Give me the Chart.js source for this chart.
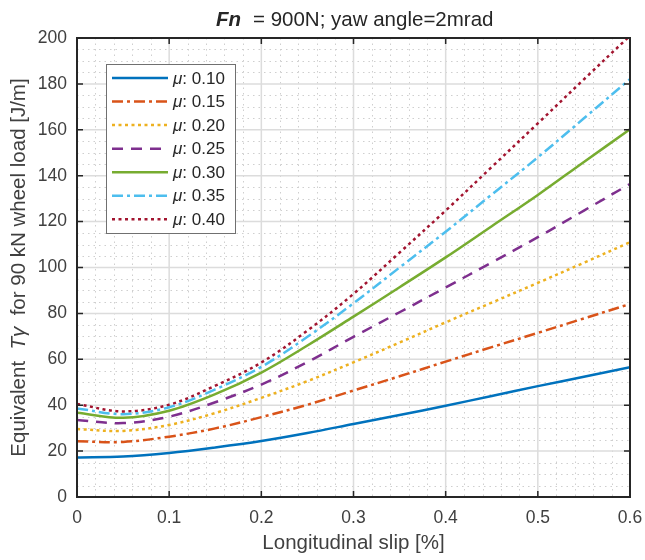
<!DOCTYPE html>
<html>
<head>
<meta charset="utf-8">
<title>Equivalent T-gamma vs longitudinal slip</title>
<script src="https://cdn.jsdelivr.net/npm/chart.js@4.4.1/dist/chart.umd.min.js"></script>
<style>
  html, body { margin: 0; padding: 0; background: #ffffff; }
  canvas { display: block; }
</style>
</head>
<body>
<canvas id="myChart" width="645" height="560"></canvas>
<script>
// longitudinal slip [%]
const slip = [0, 0.05, 0.1, 0.15, 0.2, 0.25, 0.3, 0.35, 0.4, 0.45, 0.5, 0.55, 0.6];

// equivalent T-gamma [J/m] per friction coefficient
const mu010 = [17.2, 17.6, 19.2, 21.6, 24.4, 27.9, 31.8, 35.7, 39.8, 44.0, 48.3, 52.4, 56.6];
const mu015 = [24.3, 24.0, 26.3, 29.9, 34.8, 40.2, 46.4, 52.6, 59.0, 65.3, 71.5, 77.8, 84.1];
const mu020 = [29.6, 28.8, 31.4, 36.6, 43.2, 50.5, 58.7, 67.3, 76.1, 84.7, 93.3, 102.1, 111.0];
const mu025 = [33.5, 32.2, 35.0, 41.3, 49.0, 58.8, 69.8, 80.5, 91.3, 102.2, 113.2, 124.8, 136.4];
const mu030 = [36.7, 34.5, 37.6, 44.8, 54.2, 66.0, 78.6, 91.4, 104.4, 118.0, 131.6, 146.0, 160.2];
const mu035 = [38.6, 36.1, 39.1, 46.9, 56.7, 69.8, 84.4, 100.0, 115.6, 131.8, 148.0, 165.0, 182.1];
const mu040 = [40.5, 37.3, 40.2, 48.5, 58.6, 72.5, 88.5, 106.5, 124.8, 143.8, 162.8, 182.0, 201.0];

const muLabels = ['0.10', '0.15', '0.20', '0.25', '0.30', '0.35', '0.40'];
const seriesValues = [mu010, mu015, mu020, mu025, mu030, mu035, mu040];

// axis limits and tick steps
const xMin = 0, xMax = 0.6, xStep = 0.1, xMinorStep = 0.02;
const yMin = 0, yMax = 200, yStep = 20, yMinorStep = 5;

const FONT = '"Liberation Sans", Arial, Helvetica, sans-serif';
const colors = ['#0072BD', '#D95319', '#EDB120', '#7E2F8E', '#77AC30', '#4DBEEE', '#A2142F'];
const dashes = [[], [11, 4, 3, 4], [3, 3.5], [11, 8], [], [11, 4, 3, 4], [3, 3.5]];

const datasets = seriesValues.map(function (vals, i) {
    return {
        label: muLabels[i],
        data: slip.map(function (s, k) { return { x: s, y: vals[k] }; }),
        borderColor: colors[i],
        backgroundColor: colors[i],
        borderWidth: 2.5,
        borderDash: dashes[i],
        borderCapStyle: 'butt',
        pointRadius: 0,
        fill: false,
        tension: 0.35
    };
});

// grid, box, inside ticks, legend and text labels
const framePlugin = {
    id: 'frame',
    beforeDraw(chart) {
        const c = chart.ctx;
        c.save();
        c.fillStyle = '#ffffff';
        c.fillRect(0, 0, chart.width, chart.height);
        c.restore();
    },
    beforeDatasetsDraw(chart) {
        const c = chart.ctx, a = chart.chartArea;
        const sx = chart.scales.x, sy = chart.scales.y;
        c.save();
        // minor grid
        c.strokeStyle = '#cfcfcf';
        c.lineWidth = 1;
        c.setLineDash([1.5, 4]);
        const nx = Math.round((xMax - xMin) / xMinorStep);
        for (let i = 1; i < nx; i++) {
            if (i % 5 === 0) continue;
            const px = Math.round(sx.getPixelForValue(xMin + i * xMinorStep)) + 0.5;
            c.beginPath(); c.moveTo(px, a.top); c.lineTo(px, a.bottom); c.stroke();
        }
        const ny = Math.round((yMax - yMin) / yMinorStep);
        for (let i = 1; i < ny; i++) {
            if (i % 4 === 0) continue;
            const py = Math.round(sy.getPixelForValue(yMin + i * yMinorStep)) + 0.5;
            c.beginPath(); c.moveTo(a.left, py); c.lineTo(a.right, py); c.stroke();
        }
        // major grid
        c.setLineDash([]);
        c.strokeStyle = '#dcdcdc';
        c.lineWidth = 1.5;
        for (let v = xMin + xStep; v < xMax - 1e-9; v += xStep) {
            const px = sx.getPixelForValue(v);
            c.beginPath(); c.moveTo(px, a.top); c.lineTo(px, a.bottom); c.stroke();
        }
        for (let v = yMin + yStep; v < yMax - 1e-9; v += yStep) {
            const py = sy.getPixelForValue(v);
            c.beginPath(); c.moveTo(a.left, py); c.lineTo(a.right, py); c.stroke();
        }
        c.restore();
    },
    afterDatasetsDraw(chart) {
        const c = chart.ctx, a = chart.chartArea;
        const sx = chart.scales.x, sy = chart.scales.y;
        c.save();
        // axes box
        c.strokeStyle = '#262626';
        c.lineWidth = 2;
        c.strokeRect(a.left, a.top, a.right - a.left, a.bottom - a.top);
        // tick marks pointing inward on all four sides
        const tl = 6;
        c.lineWidth = 1.5;
        for (let v = xMin; v <= xMax + 1e-9; v += xStep) {
            const px = sx.getPixelForValue(v);
            c.beginPath();
            c.moveTo(px, a.bottom); c.lineTo(px, a.bottom - tl);
            c.moveTo(px, a.top); c.lineTo(px, a.top + tl);
            c.stroke();
        }
        for (let v = yMin; v <= yMax + 1e-9; v += yStep) {
            const py = sy.getPixelForValue(v);
            c.beginPath();
            c.moveTo(a.left, py); c.lineTo(a.left + tl, py);
            c.moveTo(a.right, py); c.lineTo(a.right - tl, py);
            c.stroke();
        }

        // legend
        const lx = 106, ly = 64, lw = 129, lh = 169;
        c.fillStyle = '#ffffff';
        c.fillRect(lx, ly, lw, lh);
        c.strokeStyle = '#707070';
        c.lineWidth = 1;
        c.strokeRect(lx + 0.5, ly + 0.5, lw, lh);
        chart.data.datasets.forEach(function (ds, i) {
            const y = ly + 14 + i * 23.55;
            c.strokeStyle = ds.borderColor;
            c.lineWidth = ds.borderWidth;
            c.setLineDash(ds.borderDash);
            c.beginPath(); c.moveTo(lx + 6, y); c.lineTo(lx + 62, y); c.stroke();
            c.setLineDash([]);
            c.fillStyle = '#262626';
            c.textBaseline = 'middle';
            c.textAlign = 'left';
            c.font = 'italic 17px ' + FONT;
            c.fillText('\u03bc', lx + 67, y + 1);
            const w = c.measureText('\u03bc').width;
            c.font = '17px ' + FONT;
            c.fillText(': ' + ds.label, lx + 67 + w, y + 1);
        });
        c.restore();
    },
    afterDraw(chart) {
        const c = chart.ctx, a = chart.chartArea;
        c.save();
        c.fillStyle = '#262626';
        c.textBaseline = 'alphabetic';
        c.textAlign = 'left';

        // title
        c.font = 'bold italic 20.5px ' + FONT;
        c.fillText('Fn', 216, 26);
        c.font = '20.5px ' + FONT;
        c.fillText('= 900N; yaw angle=2mrad', 253, 26);

        // x axis label
        c.fillStyle = '#404040';
        c.textAlign = 'center';
        c.font = '20.5px ' + FONT;
        c.fillText('Longitudinal slip [%]', (a.left + a.right) / 2, 549);

        // y axis label, mixed upright / italic pieces
        const parts = [
            { t: 'Equivalent  ', f: '20.5px ' + FONT },
            { t: 'T\u03b3', f: 'italic 20.5px ' + FONT },
            { t: '  for 90 kN wheel load [J/m]', f: '20.5px ' + FONT }
        ];
        let total = 0;
        parts.forEach(function (p) { c.font = p.f; p.w = c.measureText(p.t).width; total += p.w; });
        c.translate(25, (a.top + a.bottom) / 2);
        c.rotate(-Math.PI / 2);
        c.textAlign = 'left';
        let x = -total / 2;
        parts.forEach(function (p) { c.font = p.f; c.fillText(p.t, x, 0); x += p.w; });
        c.restore();
    }
};

const ctx = document.getElementById('myChart').getContext('2d');
const myChart = new Chart(ctx, {
    type: 'line',
    data: { datasets: datasets },
    options: {
        responsive: false,
        animation: false,
        layout: { padding: { top: 38, right: 15, left: 0, bottom: 0 } },
        plugins: {
            legend: { display: false },
            tooltip: { enabled: false },
            title: { display: false }
        },
        scales: {
            x: {
                type: 'linear',
                min: xMin,
                max: xMax,
                grid: { display: false, drawTicks: false },
                border: { display: false },
                ticks: {
                    stepSize: xStep,
                    padding: 11,
                    color: '#404040',
                    font: { family: FONT, size: 17.5 },
                    maxRotation: 0
                },
                afterFit: function (scale) { scale.height = 63; scale.paddingLeft = 0; scale.paddingRight = 0; }
            },
            y: {
                type: 'linear',
                min: yMin,
                max: yMax,
                grid: { display: false, drawTicks: false },
                border: { display: false },
                ticks: {
                    stepSize: yStep,
                    padding: 10,
                    color: '#404040',
                    font: { family: FONT, size: 17.5 }
                },
                afterFit: function (scale) { scale.width = 77; scale.paddingTop = 0; scale.paddingBottom = 0; }
            }
        }
    },
    plugins: [framePlugin]
});
</script>
</body>
</html>
